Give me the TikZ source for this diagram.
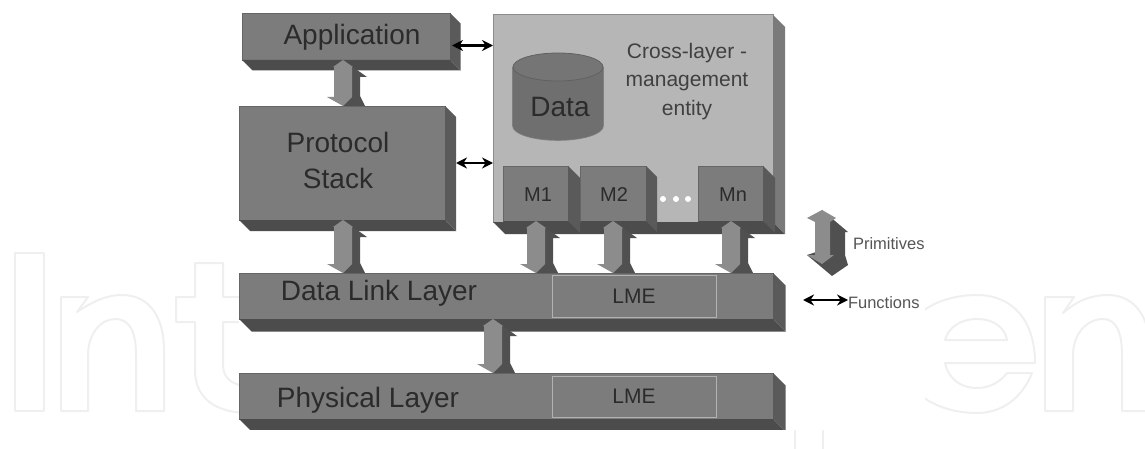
\documentclass[tikz,border=0pt]{standalone}
\usepackage{fontspec}
\setmainfont{Liberation Sans}
\usetikzlibrary{calc,arrows.meta}
\definecolor{frontgray}{HTML}{7C7C7C}
\definecolor{sidegray}{HTML}{5A5A5A}
\definecolor{undergray}{HTML}{4C4C4C}
\definecolor{panelgray}{HTML}{B6B6B6}
\definecolor{panelside}{HTML}{7A7A7A}
\definecolor{inkgray}{HTML}{2B2B2B}
\definecolor{softink}{HTML}{555555}
\definecolor{arrowlight}{HTML}{8C8C8C}
\definecolor{arrowdark}{HTML}{505050}
\definecolor{ghost}{HTML}{EFEFEF}
\tikzset{
  front/.style={fill=frontgray,draw=black!60,line width=.6pt,inner sep=0pt,outer sep=0pt,text=inkgray},
  panel/.style={fill=panelgray,draw=black!45,line width=1pt,inner sep=0pt,outer sep=0pt},
  lmebox/.style={fill=frontgray,draw=black!30,line width=1pt,inner sep=0pt,outer sep=0pt,text=inkgray,font=\fontsize{21}{21}\selectfont},
  label/.style={inner sep=0pt,outer sep=0pt,text=inkgray},
  big/.style={font=\fontsize{28}{36}\selectfont},
  mid/.style={font=\fontsize{21}{28.5}\selectfont},
  small/.style={font=\fontsize{20}{20}\selectfont},
  legend/.style={inner sep=0pt,outer sep=0pt,text=softink,anchor=west,font=\fontsize{16.5}{16.5}\selectfont},
  fnarrow/.style={{Stealth[length=11pt,width=11pt]}-{Stealth[length=11pt,width=11pt]},line width=2.4pt,black},
  ghostline/.style={draw=ghost,line width=2pt,line join=round},
}
\newcommand{\depthof}[4]{%
  \fill[#4] (#1.south west) -- ($(#1.south west)+(#2,#2)$) -- ($(#1.south east)+(#2,#2)$) -- (#1.south east) -- cycle;
  \fill[#3] (#1.north east) -- ($(#1.north east)+(#2,#2)$) -- ($(#1.south east)+(#2,#2)$) -- (#1.south east) -- cycle;
}
\newcommand{\blockarrow}[3]{%
  \coordinate (t) at (#1,0 |- #2.south);
  \coordinate (b) at (#1,0 |- #3.north);
  \fill[arrowdark] (t) -- ($(t)+(24,17)$) -- ($(t)+(17,17)$) -- ($(b)+(17,-10)$) -- ($(b)+(22,0)$) -- (b) -- cycle;
  \fill[arrowlight] (t) -- ($(t)+(-10,7)$) -- ($(t)+(-9,7)$) -- ($(b)+(-9,-9)$) -- ($(b)+(-16,-9)$) -- (b) -- ($(b)+(9,-9)$) -- ($(t)+(9,7)$) -- ($(t)+(10,7)$) -- cycle;
}
\begin{document}
\begin{tikzpicture}[x=1pt,y=-1pt]
\useasboundingbox (0,0) rectangle (1145,449);
\begin{scope}
\clip (0,0) rectangle (1145,449);
% faint outline lettering behind the figure
\draw[ghostline] (15,253) rectangle (44,411);
\draw[ghostline] (61,297) -- (88,297) -- (77,312) .. controls (95,300) and (108,295) .. (122,295) .. controls (150,295) and (164,318) .. (164,350) -- (164,411) -- (136,411) -- (136,355) .. controls (136,332) and (130,319) .. (115,319) .. controls (100,319) and (88,335) .. (88,355) -- (88,411) -- (61,411) -- cycle;
\draw[ghostline] (250,297) -- (223,297) -- (223,263) -- (195,263) -- (195,297) -- (176,297) -- (176,322) -- (195,322) -- (195,370) .. controls (195,398) and (215,413) .. (250,413);
\draw[ghostline] (250,322) -- (223,322) -- (223,365) .. controls (223,378) and (232,386) .. (250,386);
\draw[ghostline] (900,354) .. controls (900,318) and (935,295) .. (977,295) .. controls (1012,295) and (1035,320) .. (1035,363) -- (945,363) .. controls (948,378) and (960,388) .. (977,388) .. controls (990,388) and (1000,382) .. (1007,373) -- (1032,373) .. controls (1022,398) and (1002,413) .. (977,413) .. controls (935,413) and (900,390) .. (900,354);
\draw[ghostline] (945,340) .. controls (948,328) and (960,319) .. (977,319) .. controls (994,319) and (1005,328) .. (1007,340) -- cycle;
\draw[ghostline] (1045,297) -- (1074,297) -- (1063,313) .. controls (1078,300) and (1092,295) .. (1108,295) .. controls (1135,295) and (1150,318) .. (1150,350) -- (1150,411) -- (1122,411) -- (1122,355) .. controls (1122,332) and (1116,319) .. (1103,319) .. controls (1086,319) and (1073,335) .. (1073,355) -- (1073,411) -- (1045,411) -- cycle;
\fill[white] (239,0) rectangle (925,430);
\draw[ghostline] (795,430) -- (795,449);
\draw[ghostline] (823,430) -- (823,449);
\end{scope}

% left stack
\node[front,minimum width=208pt,minimum height=47pt] (app) at (346,36.5) {};
\depthof{app}{10.5}{sidegray}{undergray}
\node[front,minimum width=206pt,minimum height=114pt] (proto) at (342,163) {};
\depthof{proto}{11}{sidegray}{undergray}
\node[front,minimum width=534pt,minimum height=46pt] (dll) at (506,296) {};
\depthof{dll}{12.5}{sidegray}{undergray}
\node[front,minimum width=534pt,minimum height=46pt] (phy) at (506,396) {};
\depthof{phy}{12.5}{sidegray}{undergray}

% cross-layer panel
\node[panel,minimum width=280pt,minimum height=207pt] (clme) at (633,118.5) {};
\depthof{clme}{12}{panelside}{undergray}

% data store
\fill[black!50] (558,126) ellipse [x radius=45.8pt,y radius=14.8pt];
\fill[black!50] (512.2,67) rectangle (603.8,126);
\fill[frontgray!110!white] (558,126) ellipse [x radius=45pt,y radius=14pt];
\fill[frontgray!110!white] (513,67) rectangle (603,126);
\fill[black!54,draw=black!62,line width=.8pt] (558,67) ellipse [x radius=45pt,y radius=14pt];
\node[label,big] (datatext) at (560,107) {Data};
\node[label,mid,align=center,text=softink!75!black] (clmetext) at (687,81.5) {Cross-layer -\\management\\entity};

% management modules
\node[front,minimum width=65pt,minimum height=55pt] (m1) at (535.5,193.5) {};
\depthof{m1}{12}{sidegray}{undergray}
\node[front,minimum width=66pt,minimum height=55pt] (m2) at (613,193.5) {};
\depthof{m2}{11}{sidegray}{undergray}
\node[front,minimum width=65pt,minimum height=55pt] (mn) at (730.5,193.5) {};
\depthof{mn}{12}{sidegray}{undergray}
\node[label,small] (m1text) at (538,195) {M1};
\node[label,small] (m2text) at (614,195) {M2};
\node[label,small] (mntext) at (733,195) {Mn};
\fill[white] (663,199) circle (3pt) (676,199) circle (3pt) (688,199) circle (3pt);

% layer labels
\node[label,big] (apptext) at (352,37) {Application};
\node[label,big,align=center] (prototext) at (338,160) {Protocol\\Stack};
\node[label,big] (dlltext) at (379,293) {Data Link Layer};
\node[label,big] (phytext) at (368,400) {Physical Layer};
\node[lmebox,minimum width=164pt,minimum height=42pt] (lme1) at (634,296) {LME};
\node[lmebox,minimum width=164pt,minimum height=41pt] (lme2) at (634,396.5) {LME};

% block arrows
\blockarrow{343}{app}{proto}
\blockarrow{343}{proto}{dll}
\blockarrow{536}{m1}{dll}
\blockarrow{613}{m2}{dll}
\blockarrow{731}{mn}{dll}
\blockarrow{493}{dll}{phy}

% function arrows
\draw[fnarrow] ([yshift=-9pt,xshift=2pt]app.east) -- ([yshift=-9pt]clme.west |- app.east);
\draw[fnarrow] ([xshift=11pt]proto.east) -- (clme.west |- proto.east);

% legend
\node[legend] (primtext) at (853,244) {Primitives};
\node[legend] (functext) at (848,303) {Functions};
\coordinate (legstart) at (803,300);
\draw[fnarrow] (legstart) -- (functext.west |- legstart);
\fill[arrowdark] (822,210) -- (848,232) -- (845,232) -- (845,255) -- (848,265) -- (832,276) -- (807,255) -- (822,250) -- cycle;
\fill[arrowlight] (822,210) -- (807,218) -- (815,222) -- (815,255) -- (807,255) -- (822,264) -- (834,255) -- (830,255) -- (830,222) -- (836,218) -- cycle;

% image cut off at the bottom
\fill[white] (230,430) rectangle (790,449);
\end{tikzpicture}
\end{document}
